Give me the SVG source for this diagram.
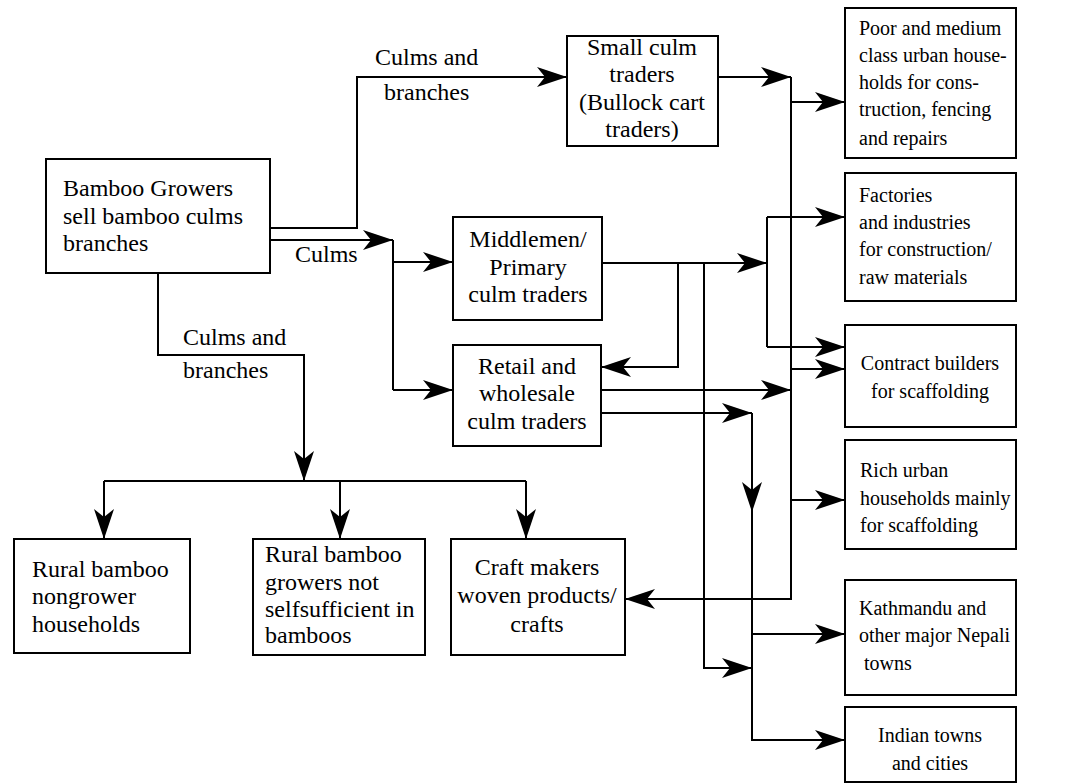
<svg xmlns="http://www.w3.org/2000/svg" width="1078" height="784" viewBox="0 0 1078 784">
<style>
.box{fill:#fff;stroke:#000;stroke-width:2}
.t{font-family:"Liberation Serif","Times New Roman",serif;font-size:24px;fill:#000}
.s{font-family:"Liberation Serif","Times New Roman",serif;font-size:20px;fill:#000}
.c{text-anchor:middle}
.ln{fill:none;stroke:#000;stroke-width:2}
</style>
<defs>
<marker id="a" markerUnits="userSpaceOnUse" markerWidth="32" markerHeight="22" refX="30" refY="11" orient="auto">
<path d="M0,1 L30,11 L0,21 L8,11 Z" fill="#000"/>
</marker>
</defs>
<rect width="1078" height="784" fill="#fff"/>

<g id="connectors">
<path class="ln" d="M270,228 H357 V77 H567" marker-end="url(#a)"/>
<path class="ln" d="M270,240 H393" marker-end="url(#a)"/>
<path class="ln" d="M393,240 V390"/>
<path class="ln" d="M393,262 H453" marker-end="url(#a)"/>
<path class="ln" d="M393,390 H453" marker-end="url(#a)"/>
<path class="ln" d="M158,273 V355 H304 V481" marker-end="url(#a)"/>
<path class="ln" d="M104,481 H526"/>
<path class="ln" d="M104,481 V539" marker-end="url(#a)"/>
<path class="ln" d="M340,481 V539" marker-end="url(#a)"/>
<path class="ln" d="M526,481 V539" marker-end="url(#a)"/>
<path class="ln" d="M718,77 H791" marker-end="url(#a)"/>
<path class="ln" d="M791,77 V599 H625" marker-end="url(#a)"/>
<path class="ln" d="M791,102 H845" marker-end="url(#a)"/>
<path class="ln" d="M791,369 H845" marker-end="url(#a)"/>
<path class="ln" d="M791,500 H845" marker-end="url(#a)"/>
<path class="ln" d="M602,263 H767" marker-end="url(#a)"/>
<path class="ln" d="M767,217 V347"/>
<path class="ln" d="M767,217 H845" marker-end="url(#a)"/>
<path class="ln" d="M767,347 H845" marker-end="url(#a)"/>
<path class="ln" d="M678,263 V367 H601" marker-end="url(#a)"/>
<path class="ln" d="M704,263 V668 H752" marker-end="url(#a)"/>
<path class="ln" d="M601,390 H791" marker-end="url(#a)"/>
<path class="ln" d="M601,413 H752" marker-end="url(#a)"/>
<path class="ln" d="M752,413 V512" marker-end="url(#a)"/>
<path class="ln" d="M752,512 V740 H845" marker-end="url(#a)"/>
<path class="ln" d="M752,634 H845" marker-end="url(#a)"/>
</g>

<g id="labels">
<text class="t" x="375" y="65">Culms and</text>
<text class="t" x="384" y="100">branches</text>
<text class="t" x="295" y="262">Culms</text>
<text class="t" x="183" y="345">Culms and</text>
<text class="t" x="183" y="378">branches</text>
</g>

<g id="growers">
<rect class="box" x="46" y="159" width="224" height="114"/>
<text class="t" x="63" y="196">Bamboo Growers</text>
<text class="t" x="63" y="224">sell bamboo culms</text>
<text class="t" x="63" y="251">branches</text>
</g>

<g id="small-traders">
<rect class="box" x="567" y="36" width="151" height="110"/>
<text class="t c" x="642" y="55">Small culm</text>
<text class="t c" x="642" y="82">traders</text>
<text class="t c" x="642" y="110">(Bullock cart</text>
<text class="t c" x="642" y="137">traders)</text>
</g>

<g id="middlemen">
<rect class="box" x="453" y="217" width="149" height="103"/>
<text class="t c" x="528" y="247">Middlemen/</text>
<text class="t c" x="528" y="275">Primary</text>
<text class="t c" x="528" y="302">culm traders</text>
</g>

<g id="retail">
<rect class="box" x="453" y="345" width="148" height="101"/>
<text class="t c" x="527" y="374">Retail and</text>
<text class="t c" x="527" y="401">wholesale</text>
<text class="t c" x="527" y="429">culm traders</text>
</g>

<g id="poor">
<rect class="box" x="845" y="8" width="171" height="150"/>
<text class="s" x="859" y="35">Poor and medium</text>
<text class="s" x="859" y="62">class urban house-</text>
<text class="s" x="859" y="89">holds  for cons-</text>
<text class="s" x="859" y="116">truction, fencing</text>
<text class="s" x="859" y="145">and repairs</text>
</g>

<g id="factories">
<rect class="box" x="845" y="173" width="171" height="128"/>
<text class="s" x="859" y="202">Factories</text>
<text class="s" x="859" y="229">and industries</text>
<text class="s" x="859" y="256">for construction/</text>
<text class="s" x="859" y="284">raw materials</text>
</g>

<g id="contract">
<rect class="box" x="845" y="325" width="171" height="102"/>
<text class="s c" x="930" y="370">Contract builders</text>
<text class="s c" x="930" y="398">for scaffolding</text>
</g>

<g id="rich">
<rect class="box" x="845" y="440" width="171" height="109"/>
<text class="s" x="860" y="477">Rich urban</text>
<text class="s" x="860" y="505">households mainly</text>
<text class="s" x="860" y="532">for scaffolding</text>
</g>

<g id="kathmandu">
<rect class="box" x="845" y="580" width="171" height="115"/>
<text class="s" x="859" y="615">Kathmandu and</text>
<text class="s" x="859" y="642">other major Nepali</text>
<text class="s" x="864" y="670">towns</text>
</g>

<g id="indian">
<rect class="box" x="845" y="707" width="171" height="75"/>
<text class="s c" x="930" y="742">Indian towns</text>
<text class="s c" x="930" y="770">and cities</text>
</g>

<g id="nongrower">
<rect class="box" x="14" y="539" width="176" height="114"/>
<text class="t" x="32" y="577">Rural bamboo</text>
<text class="t" x="32" y="604">nongrower</text>
<text class="t" x="32" y="632">households</text>
</g>

<g id="growers-not">
<rect class="box" x="253" y="539" width="172" height="116"/>
<text class="t" x="265" y="562">Rural bamboo</text>
<text class="t" x="265" y="590">growers  not</text>
<text class="t" x="265" y="617">selfsufficient in</text>
<text class="t" x="265" y="643">bamboos</text>
</g>

<g id="craft">
<rect class="box" x="451" y="539" width="174" height="116"/>
<text class="t c" x="537" y="575">Craft makers</text>
<text class="t c" x="537" y="603">woven products/</text>
<text class="t c" x="537" y="632">crafts</text>
</g>
</svg>
